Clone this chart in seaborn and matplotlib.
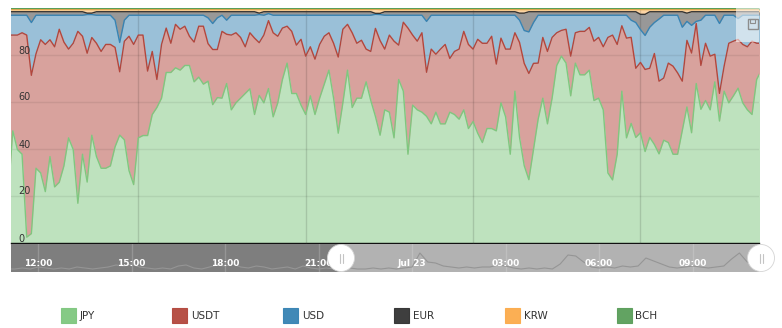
import numpy as np
import pandas as pd
import matplotlib
matplotlib.use("Agg")
import matplotlib.pyplot as plt
from matplotlib.patches import Circle, Rectangle
from matplotlib.transforms import offset_copy
import seaborn as sns

sns.set_style("white")
plt.rcParams["font.family"] = ["DejaVu Sans"]

# ---------------- data (percent share, 5-minute steps from Jul 22 21:40) ----------------
START_HOUR = -2 - 20 / 60   # hours relative to Jul 23 00:00
STEP_MIN = 5

JPY = [20, 48, 40, 38, 2.5, 4, 32, 30, 22, 37,
       24, 26, 33, 45, 40, 17, 38, 26, 46, 37,
       32, 32, 33, 41, 46, 44, 31, 25, 45, 46,
       46, 55, 58, 62, 73, 73, 75, 74, 76, 76,
       69, 71, 68, 69, 59, 62, 62, 68, 57, 60,
       62, 64, 66, 55, 63, 60, 66, 54, 60, 70,
       77, 64, 64, 59, 55, 63, 55, 62, 68, 74,
       62, 47, 60, 74, 58, 62, 62, 69, 61, 54,
       46, 57, 56, 45, 70, 65, 38, 59, 57, 56,
       54, 51, 56, 51, 51, 56, 55, 53, 57, 49,
       52, 47, 43, 49, 49, 48, 60, 54, 38, 65,
       45, 33, 27, 40, 53, 62, 51, 62, 76, 80,
       77, 63, 77, 72, 72, 74, 61, 62, 57, 30,
       27, 38, 65, 45, 51, 45, 47, 39, 45, 42,
       38, 44, 43, 38, 38, 48, 58, 47, 68, 57,
       61, 57, 69, 52, 65, 60, 63, 66, 60, 57,
       55, 70, 74]

USDT = [69, 41, 49, 52, 86.5, 67.5, 49, 57, 63, 50,
        60, 65.5, 53, 38, 45.5, 73.6, 50.5, 55, 41.7, 48.5,
        50, 53, 52, 42.4, 27, 42, 57.5, 60, 44, 43,
        27.6, 27, 12, 23, 19, 12.5, 18.6, 17.5, 16.8, 12.5,
        17, 21.8, 24.8, 16, 23.5, 20.5, 28.6, 21, 32, 30,
        26, 20, 24, 32.7, 22.5, 29, 29, 36, 28.5, 22,
        15.8, 26.6, 20.7, 28.2, 25, 21, 23.7, 23, 20.5, 16,
        23.5, 32.6, 31.5, 19.6, 32, 23.5, 24.8, 14, 21, 37.5,
        40.4, 26, 33, 41.4, 14.7, 29.5, 54, 30, 29.4, 34,
        18.8, 32, 24.8, 32, 34, 23, 27, 30, 33.6, 36,
        31, 40.2, 42.5, 36.5, 39.5, 28.6, 27.7, 29, 45, 25,
        40.5, 43.6, 45.3, 36.6, 24, 26, 31, 26, 14, 11,
        14.5, 17, 13, 18.6, 18.6, 18.3, 25.4, 26, 27, 58,
        62, 47, 28, 42.7, 36.7, 29.5, 30, 35, 29.5, 38.8,
        31, 26.6, 34, 37.7, 34.8, 21, 28.4, 34, 25.6, 18.7,
        24.5, 23, 11.8, 11.8, 10.7, 25.5, 23.4, 20.8, 25, 27,
        31.4, 15.5, 11.5]

USD = [8.5, 8.5, 8.5, 7.5, 8.5, 22.5, 16.5, 10.5, 12.5, 10.5,
       13.5, 6, 11.5, 14.5, 12, 6.9, 9, 16.5, 9.8, 12,
       15.5, 12.5, 12.5, 11.6, 12.5, 9, 9, 12.5, 8.5, 8.5,
       23.9, 15.5, 27.5, 12.5, 5.5, 12, 3.9, 6, 4.7, 9,
       11.5, 4.7, 4.7, 11, 11.1, 13.5, 6.9, 6, 8.5, 7.5,
       9.5, 13.5, 7.5, 9.8, 12, 8.5, 3, 7.5, 9, 5.5,
       4.7, 6.9, 12.8, 10.3, 17.5, 13.5, 18.8, 12.5, 9, 7.5,
       12, 17.9, 6, 3.9, 7.5, 12, 10.7, 14.5, 15.5, 6,
       11.1, 14.5, 8.5, 11.1, 12.8, 3, 5.5, 8.5, 11.1, 7.5,
       21.7, 14.5, 16.7, 14.5, 12.5, 18.5, 15.5, 14.5, 6.9, 12.5,
       14.5, 10.3, 12, 12, 9, 20.9, 9.8, 14.5, 14.5, 7.5,
       9.5, 14, 17.7, 17.4, 20.5, 9.5, 15.5, 9.5, 7.5, 6.5,
       6, 17.5, 7.5, 6.9, 6.9, 5.2, 11.1, 9.5, 13.5, 9.5,
       8.5, 12.5, 4.5, 9.8, 7.3, 19.5, 14, 14.5, 17.5, 13.2,
       26.5, 26.9, 20.5, 21.8, 24.7, 23, 8.1, 11.8, 0.9, 19.3,
       12, 17.5, 16.7, 29.8, 21.8, 12, 11.1, 8.9, 12.5, 13.5,
       11.1, 12, 12]

EUR = [1.5, 1.5, 1.5, 1.5, 1.5, 4.6, 1.5, 1.5, 1.5, 1.5,
       1.5, 1.5, 1.5, 1.5, 1.5, 1.5, 1.5, 0.6, 0.6, 1.5,
       1.5, 1.5, 1.5, 3.6, 13.1, 3.6, 1.5, 1.5, 1.5, 1.5,
       1.5, 1.5, 1.5, 1.5, 1.5, 1.5, 1.5, 1.5, 1.5, 1.5,
       1.5, 1.5, 1.5, 2.6, 5.0, 2.6, 1.5, 3.6, 1.5, 1.5,
       1.5, 1.5, 1.5, 1.5, 0.6, 1.5, 0.8, 1.5, 1.5, 1.5,
       1.5, 1.5, 1.5, 1.5, 1.5, 1.5, 1.5, 1.5, 1.5, 1.5,
       1.5, 1.5, 1.5, 1.5, 1.5, 1.5, 1.5, 1.5, 1.5, 0.4,
       0.5, 1.5, 1.5, 1.5, 1.5, 1.5, 1.5, 1.5, 1.5, 1.5,
       4.1, 1.5, 1.5, 1.5, 1.5, 1.5, 1.5, 1.5, 1.5, 1.5,
       1.5, 1.5, 1.5, 1.5, 1.5, 1.5, 1.5, 1.5, 1.5, 1.5,
       3.0, 7.4, 8.6, 4.6, 1.5, 1.5, 1.5, 1.5, 1.5, 1.5,
       1.5, 1.5, 1.5, 1.5, 1.5, 1.5, 1.5, 1.5, 1.5, 1.5,
       1.5, 1.5, 1.5, 1.5, 3.6, 4.6, 6.5, 9.0, 6.6, 4.6,
       3.1, 1.5, 1.5, 1.5, 1.5, 6.6, 3.5, 5.8, 4.1, 3.6,
       1.5, 1.5, 1.5, 5.0, 1.5, 1.5, 1.5, 2.9, 1.5, 1.5,
       1.5, 1.5, 1.5]

KRW = [0.9, 0.9, 0.9, 0.9, 0.9, 0.9, 0.9, 0.9, 0.9, 0.9,
       0.9, 0.9, 0.9, 0.9, 0.9, 0.9, 0.9, 1.5, 1.5, 0.9,
       0.9, 0.9, 0.9, 0.9, 0.9, 0.9, 0.9, 0.9, 0.9, 0.9,
       0.9, 0.9, 0.9, 0.9, 0.9, 0.9, 0.9, 0.9, 0.9, 0.9,
       0.9, 0.9, 0.9, 0.9, 0.9, 0.9, 0.9, 0.9, 0.9, 0.9,
       0.9, 0.9, 0.9, 0.9, 1.5, 0.9, 0.9, 0.9, 0.9, 0.9,
       0.9, 0.9, 0.9, 0.9, 0.9, 0.9, 0.9, 0.9, 0.9, 0.9,
       0.9, 0.9, 0.9, 0.9, 0.9, 0.9, 0.9, 0.9, 0.9, 1.8,
       1.6, 0.9, 0.9, 0.9, 0.9, 0.9, 0.9, 0.9, 0.9, 0.9,
       0.9, 0.9, 0.9, 0.9, 0.9, 0.9, 0.9, 0.9, 0.9, 0.9,
       0.9, 0.9, 0.9, 0.9, 0.9, 0.9, 0.9, 0.9, 0.9, 0.9,
       1.5, 1.5, 0.9, 0.9, 0.9, 0.9, 0.9, 0.9, 0.9, 0.9,
       0.9, 0.9, 0.9, 0.9, 0.9, 0.9, 0.9, 0.9, 0.9, 0.9,
       0.9, 0.9, 0.9, 0.9, 0.9, 0.9, 2.0, 2.0, 0.9, 0.9,
       0.9, 0.9, 0.9, 0.9, 0.9, 0.9, 1.5, 0.9, 0.9, 0.9,
       0.9, 0.9, 0.9, 0.9, 0.9, 0.9, 0.9, 0.9, 0.9, 0.9,
       0.9, 0.9, 0.9]

BCH = [0.7, 0.7, 0.7, 0.7, 0.7, 0.7, 0.7, 0.7, 0.7, 0.7,
       0.7, 0.7, 0.7, 0.7, 0.7, 0.7, 0.7, 0.7, 0.7, 0.7,
       0.7, 0.7, 0.7, 0.7, 0.7, 0.7, 0.7, 0.7, 0.7, 0.7,
       0.7, 0.7, 0.7, 0.7, 0.7, 0.7, 0.7, 0.7, 0.7, 0.7,
       0.7, 0.7, 0.7, 0.7, 0.7, 0.7, 0.7, 0.7, 0.7, 0.7,
       0.7, 0.7, 0.7, 0.7, 0.7, 0.7, 0.7, 0.7, 0.7, 0.7,
       0.7, 0.7, 0.7, 0.7, 0.7, 0.7, 0.7, 0.7, 0.7, 0.7,
       0.7, 0.7, 0.7, 0.7, 0.7, 0.7, 0.7, 0.7, 0.7, 0.5,
       0.7, 0.7, 0.7, 0.7, 0.7, 0.7, 0.7, 0.7, 0.7, 0.7,
       0.7, 0.7, 0.7, 0.7, 0.7, 0.7, 0.7, 0.7, 0.7, 0.7,
       0.7, 0.7, 0.7, 0.7, 0.7, 0.7, 0.7, 0.7, 0.7, 0.7,
       0.7, 0.7, 0.7, 0.7, 0.7, 0.7, 0.7, 0.7, 0.7, 0.7,
       0.7, 0.7, 0.7, 0.7, 0.7, 0.7, 0.7, 0.7, 0.7, 0.7,
       0.7, 0.7, 0.7, 0.7, 0.7, 0.7, 0.7, 0.7, 0.7, 0.7,
       0.7, 0.7, 0.7, 0.7, 0.7, 0.7, 0.7, 0.7, 0.7, 0.7,
       0.7, 0.7, 0.7, 0.7, 0.7, 0.7, 0.7, 0.7, 0.7, 0.7,
       0.7, 0.7, 0.7]

# navigator series (15-minute steps from Jul 22 11:00)
NAV_START_HOUR = -13.0
NAV_STEP_MIN = 15
NAV_VALUES = [3, 3, 4, 3, 5, 4, 3, 4, 3, 5,
              4, 3, 4, 5, 7, 6, 8, 5, 4, 3,
              4, 3, 6, 7, 4, 3, 5, 7, 6, 8,
              5, 4, 6, 5, 3, 4, 5, 3, 6, 4,
              3, 4, 3, 3, 4, 3, 3, 4, 3, 4,
              3, 4, 5, 19, 10, 9, 6, 5, 4, 5,
              4, 5, 5, 7, 6, 4, 3, 4, 3, 4,
              3, 8, 17, 16, 10, 5, 4, 5, 4, 6,
              5, 6, 14, 11, 8, 5, 4, 5, 6, 5,
              4, 5, 6, 13, 19, 10, 12, 14]

SERIES = ["JPY", "USDT", "USD", "EUR", "KRW", "BCH"]
COLORS = ["#7fc77f", "#b3473d", "#3783b3", "#333333", "#fbab4b", "#5a9e5a"]
Y_TICKS = [0, 20, 40, 60, 80]
X_TICK_HOURS = [0, 3, 6, 9]
NAV_TICK_HOURS = [-12, -9, -6, -3, 0, 3, 6, 9]
NAV_TICK_LABELS = ["12:00", "15:00", "18:00", "21:00", "Jul 23", "03:00", "06:00", "09:00"]

# ---------------- figure ----------------
W, H = 782, 328
fig = plt.figure(figsize=(W / 100, H / 100), dpi=100)


def box(x0, y0, x1, y1):
    return [x0 / W, 1 - y1 / H, (x1 - x0) / W, (y1 - y0) / H]


PLOT_L, PLOT_R = 11, 759
ax = fig.add_axes(box(PLOT_L, 8, PLOT_R, 243))

n = len(JPY)
t = START_HOUR + np.arange(n) * STEP_MIN / 60
df = pd.DataFrame({s: v for s, v in zip(SERIES, [JPY, USDT, USD, EUR, KRW, BCH])})
pct = df.div(df.sum(axis=1), axis=0) * 100
ax.stackplot(t, *[pct[s].values for s in SERIES], colors=COLORS, alpha=0.5,
             linewidth=0, zorder=1)
cum = pct.cumsum(axis=1)
cum["time"] = t
for s, c in zip(SERIES, COLORS):
    sns.lineplot(data=cum, x="time", y=s, ax=ax, color=c, lw=1, zorder=3, legend=False)

x_left = START_HOUR + 0.62 * STEP_MIN / 60
x_right = START_HOUR + 161.5 * STEP_MIN / 60
ax.set_xlim(x_left, x_right)
ax.set_ylim(0, 100)
ax.set_xlabel("")
ax.set_ylabel("")
ax.set_yticks(list(range(0, 101, 20)))
ax.set_xticks(X_TICK_HOURS)
ax.set_axisbelow(False)
ax.yaxis.grid(True, color="black", alpha=0.07, lw=1)
ax.xaxis.grid(True, color="black", alpha=0.13, lw=1)
ax.tick_params(axis="both", labelleft=False, labelbottom=False, left=False)
ax.tick_params(axis="x", bottom=True, length=4, width=1, color="#222222", direction="out")
for sp in ["left", "right", "top"]:
    ax.spines[sp].set_visible(False)
ax.spines["bottom"].set_color("#111111")
ax.spines["bottom"].set_linewidth(1)

ytr = offset_copy(ax.get_yaxis_transform(), fig=fig, x=0, y=1.5, units="dots")
for v in Y_TICKS:
    ax.text(7.5 / (PLOT_R - PLOT_L), v, str(v), transform=ytr, ha="left", va="baseline",
            fontsize=7, color="#333333", zorder=5)

# ---------------- navigator ----------------
nav = fig.add_axes(box(PLOT_L, 244, PLOT_R, 272))
px_per_hour = 31.17
nav_left = x_left - (341 - PLOT_L) / px_per_hour
nav_right = nav_left + (PLOT_R - PLOT_L) / px_per_hour
nav.set_xlim(nav_left, nav_right)
nav.set_ylim(0, 28)
nav.axvspan(nav_left, x_left, color="#7e7e7e", lw=0, zorder=0)
nav.axvspan(x_left, nav_right, color="#b2b2b2", lw=0, zorder=0)
for h in NAV_TICK_HOURS:
    nav.axvline(h, color="white", alpha=0.18, lw=1, zorder=1)
nt = NAV_START_HOUR + np.arange(len(NAV_VALUES)) * NAV_STEP_MIN / 60
sns.lineplot(x=nt, y=NAV_VALUES, ax=nav, color="#959595", lw=0.8, zorder=2)
for h, lab in zip(NAV_TICK_HOURS, NAV_TICK_LABELS):
    nav.text(h, 6, lab, ha="center", va="baseline", fontsize=6.5, fontweight="bold",
             color="white", zorder=4)
nav.set_xticks([])
nav.set_yticks([])
for sp in nav.spines.values():
    sp.set_visible(False)

# ---------------- overlay decorations ----------------
over = fig.add_axes([0, 0, 1, 1], zorder=10)
over.set_xlim(0, W)
over.set_ylim(H, 0)
over.axis("off")

# export button
over.add_patch(Rectangle((736, 8), 23, 34, fc="white", alpha=0.55, ec="none"))
over.add_patch(Rectangle((747.5, 18.5), 10.5, 10.5, fill=False, ec="#8d8d8d", lw=1))
over.add_patch(Rectangle((750, 18.5), 5, 4, fill=False, ec="#8d8d8d", lw=0.8))

# navigator handles
for cx in [341, 761]:
    over.add_patch(Circle((cx, 258), 13.5, fc="white", ec="#d4d4d4", lw=0.6))
    over.plot([cx - 1.5, cx - 1.5], [253.5, 262.5], color="#c4c4c4", lw=0.8)
    over.plot([cx + 1.5, cx + 1.5], [253.5, 262.5], color="#c4c4c4", lw=0.8)

# legend
for i, (s, c) in enumerate(zip(SERIES, COLORS)):
    x0 = 61 + i * 111.1
    over.add_patch(Rectangle((x0, 308), 15, 15, fc=c, ec=c, lw=0.8, alpha=0.95))
    over.text(x0 + 19, 316, s, ha="left", va="center", fontsize=7.5, color="#333333")

fig.savefig("out.png", dpi=100)
